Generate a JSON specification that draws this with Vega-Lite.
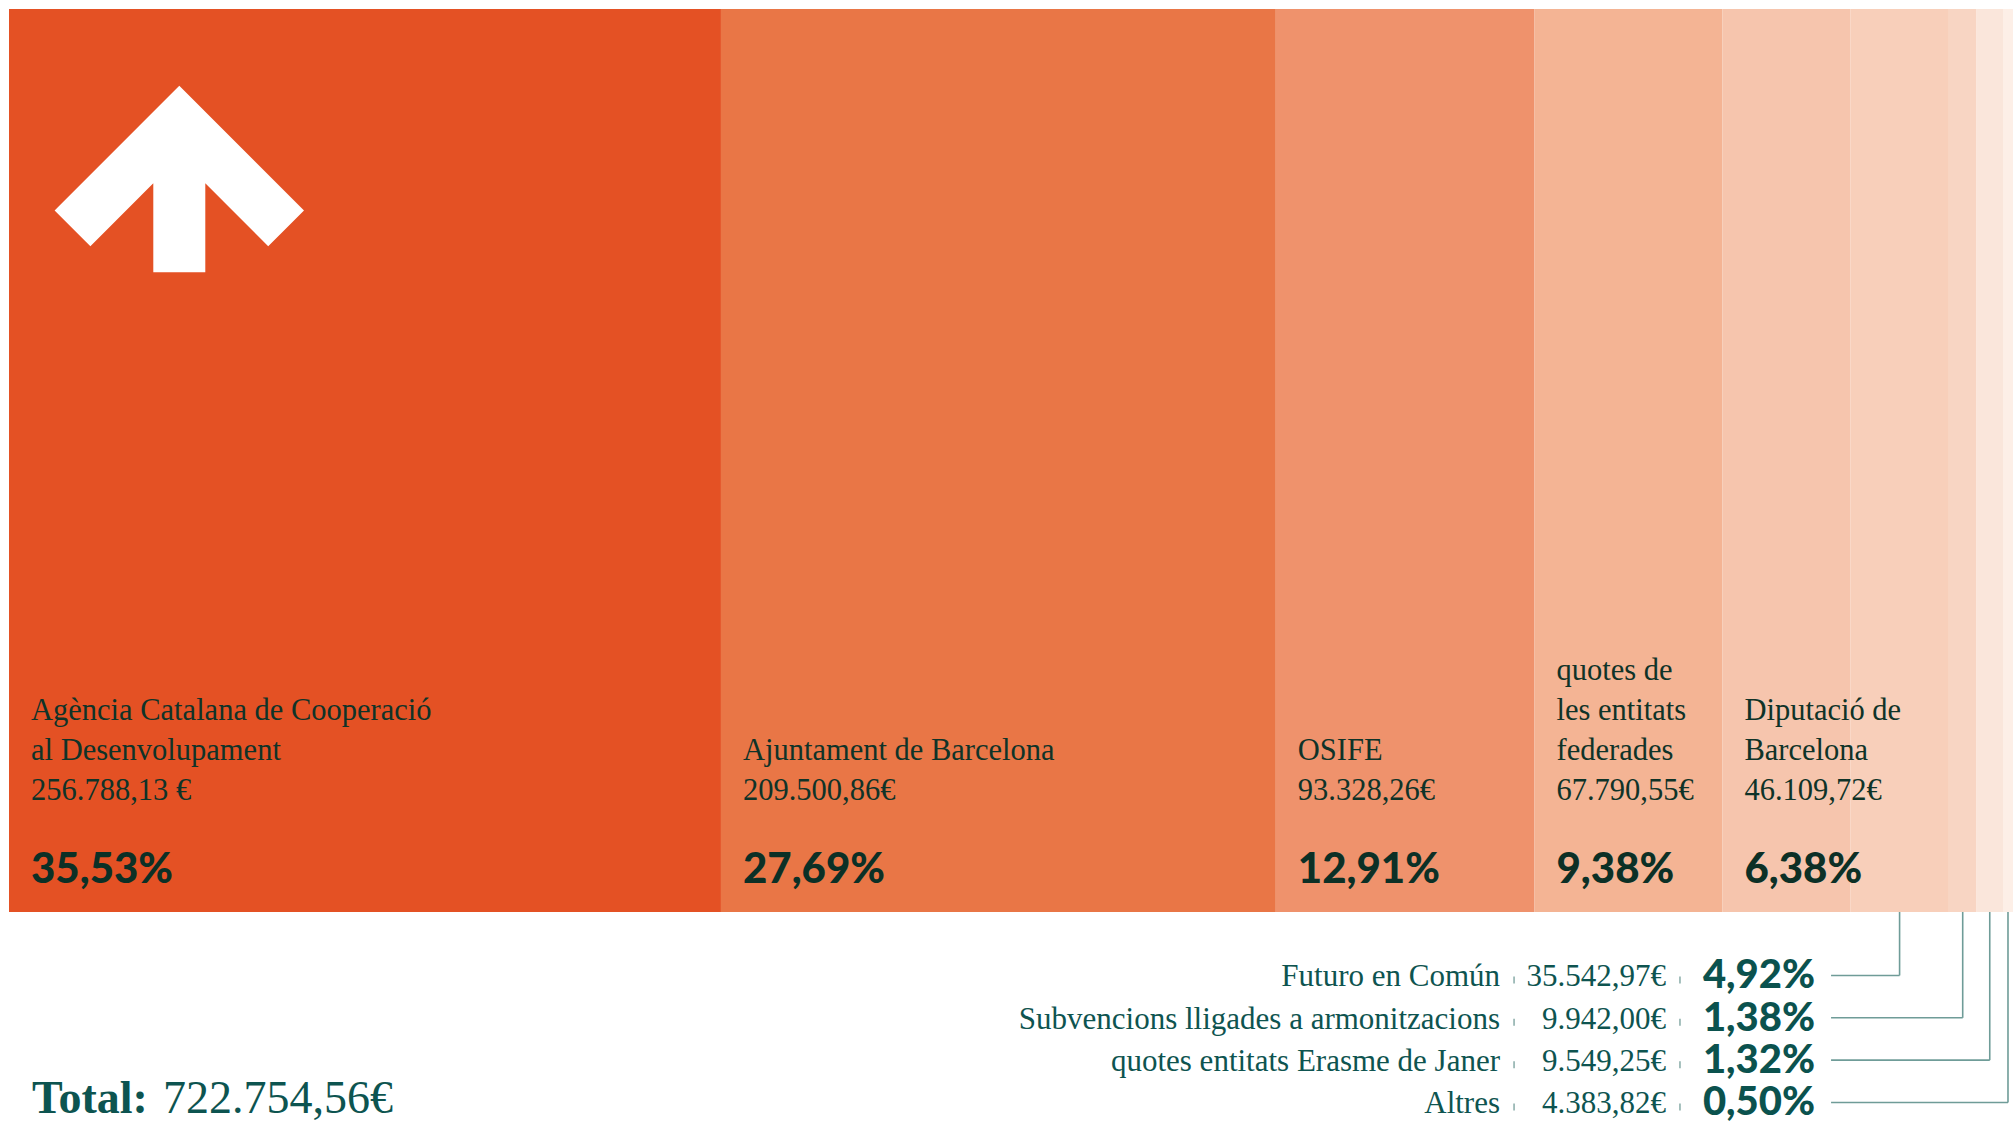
{
  "$schema": "https://vega.github.io/schema/vega-lite/v6.json",
  "width": 2004,
  "height": 1114,
  "padding": {"left": 9, "top": 9, "right": 0, "bottom": 0},
  "autosize": {"type": "none"},
  "background": "#ffffff",
  "config": {"view": {"stroke": null}, "text": {"font": "Liberation Serif"}},
  "layer": [
    {
      "data": {
        "values": [
          {"order": 1, "name": "Agència Catalana de Cooperació al Desenvolupament", "line_top": "", "line_mid": "Agència Catalana de Cooperació", "line_low": "al Desenvolupament", "amount": 256788.13, "amount_label": "256.788,13 €", "pct": 35.53, "pct_label": "35,53%"},
          {"order": 2, "name": "Ajuntament de Barcelona", "line_top": "", "line_mid": "", "line_low": "Ajuntament de Barcelona", "amount": 209500.86, "amount_label": "209.500,86€", "pct": 27.69, "pct_label": "27,69%"},
          {"order": 3, "name": "OSIFE", "line_top": "", "line_mid": "", "line_low": "OSIFE", "amount": 93328.26, "amount_label": "93.328,26€", "pct": 12.91, "pct_label": "12,91%"},
          {"order": 4, "name": "quotes de les entitats federades", "line_top": "quotes de", "line_mid": "les entitats", "line_low": "federades", "amount": 67790.55, "amount_label": "67.790,55€", "pct": 9.38, "pct_label": "9,38%"},
          {"order": 5, "name": "Diputació de Barcelona", "line_top": "", "line_mid": "Diputació de", "line_low": "Barcelona", "amount": 46109.72, "amount_label": "46.109,72€", "pct": 6.38, "pct_label": "6,38%"},
          {"order": 6, "name": "Futuro en Común", "line_top": "", "line_mid": "", "line_low": "Futuro en Común", "amount": 35542.97, "amount_label": "35.542,97€", "pct": 4.92, "pct_label": "4,92%"},
          {"order": 7, "name": "Subvencions lligades a armonitzacions", "line_top": "", "line_mid": "", "line_low": "Subvencions lligades a armonitzacions", "amount": 9942.00, "amount_label": "9.942,00€", "pct": 1.38, "pct_label": "1,38%"},
          {"order": 8, "name": "quotes entitats Erasme de Janer", "line_top": "", "line_mid": "", "line_low": "quotes entitats Erasme de Janer", "amount": 9549.25, "amount_label": "9.549,25€", "pct": 1.32, "pct_label": "1,32%"},
          {"order": 9, "name": "Altres", "line_top": "", "line_mid": "", "line_low": "Altres", "amount": 4383.82, "amount_label": "4.383,82€", "pct": 0.50, "pct_label": "0,50%"}
        ]
      },
      "transform": [
        {"stack": "pct", "groupby": [], "sort": [{"field": "order", "order": "ascending"}], "as": ["x0", "x1"]}
      ],
      "layer": [
        {
          "mark": {"type": "rect"},
          "encoding": {
            "x": {"field": "x0", "type": "quantitative", "scale": {"domain": [0, 100.01], "nice": false, "zero": false}, "axis": null},
            "x2": {"field": "x1"},
            "y": {"datum": -16.83, "type": "quantitative", "scale": {"domain": [-16.83, 9.485], "reverse": true, "nice": false, "zero": false}, "axis": null},
            "y2": {"datum": 4.5},
            "color": {
              "field": "name", "type": "nominal", "legend": null,
              "scale": {
                "domain": ["Agència Catalana de Cooperació al Desenvolupament", "Ajuntament de Barcelona", "OSIFE", "quotes de les entitats federades", "Diputació de Barcelona", "Futuro en Común", "Subvencions lligades a armonitzacions", "quotes entitats Erasme de Janer", "Altres"],
                "range": ["#E45124", "#E97646", "#EF926C", "#F4B494", "#F6C5AD", "#F8CFBA", "#F8D5C3", "#FAE6DB", "#FDEFE7"]
              }
            }
          }
        },
        {
          "transform": [{"filter": "datum.order == 1"}],
          "mark": {"type": "point", "shape": "M0,-0.748L1,0.252L0.713,0.539L0.2085,0.0345L0.2085,0.748L-0.2085,0.748L-0.2085,0.0345L-0.713,0.539L-1,0.252Z", "size": 62200, "filled": true, "fill": "#ffffff", "opacity": 1, "strokeWidth": 0, "xOffset": 170.3, "yOffset": 170},
          "encoding": {
            "x": {"field": "x0", "type": "quantitative"},
            "y": {"datum": -16.83, "type": "quantitative"}
          }
        },
        {
          "transform": [{"filter": "datum.order <= 5 && datum.line_top != ''"}],
          "mark": {"type": "text", "align": "left", "baseline": "alphabetic", "dx": 22, "dy": -232, "fontSize": 30.5, "color": "#0F3328"},
          "encoding": {
            "x": {"field": "x0", "type": "quantitative"},
            "y": {"datum": 4.5, "type": "quantitative"},
            "text": {"field": "line_top"}
          }
        },
        {
          "transform": [{"filter": "datum.order <= 5 && datum.line_mid != ''"}],
          "mark": {"type": "text", "align": "left", "baseline": "alphabetic", "dx": 22, "dy": -192, "fontSize": 30.5, "color": "#0F3328"},
          "encoding": {
            "x": {"field": "x0", "type": "quantitative"},
            "y": {"datum": 4.5, "type": "quantitative"},
            "text": {"field": "line_mid"}
          }
        },
        {
          "transform": [{"filter": "datum.order <= 5"}],
          "mark": {"type": "text", "align": "left", "baseline": "alphabetic", "dx": 22, "dy": -152, "fontSize": 30.5, "color": "#0F3328"},
          "encoding": {
            "x": {"field": "x0", "type": "quantitative"},
            "y": {"datum": 4.5, "type": "quantitative"},
            "text": {"field": "line_low"}
          }
        },
        {
          "transform": [{"filter": "datum.order <= 5"}],
          "mark": {"type": "text", "align": "left", "baseline": "alphabetic", "dx": 22, "dy": -112, "fontSize": 30.5, "color": "#0F3328"},
          "encoding": {
            "x": {"field": "x0", "type": "quantitative"},
            "y": {"datum": 4.5, "type": "quantitative"},
            "text": {"field": "amount_label"}
          }
        },
        {
          "transform": [{"filter": "datum.order <= 5"}],
          "mark": {"type": "text", "align": "left", "baseline": "alphabetic", "dx": 22, "dy": -29, "fontSize": 42, "font": "Lato", "fontWeight": 900, "color": "#0C3026"},
          "encoding": {
            "x": {"field": "x0", "type": "quantitative"},
            "y": {"datum": 4.5, "type": "quantitative"},
            "text": {"field": "pct_label"}
          }
        },
        {
          "transform": [{"filter": "datum.order >= 6"}],
          "mark": {"type": "text", "align": "right", "baseline": "middle", "dy": 2, "fontSize": 31, "color": "#0E5450"},
          "encoding": {
            "x": {"datum": 74.41, "type": "quantitative"},
            "y": {"field": "order", "type": "quantitative"},
            "text": {"field": "line_low"}
          }
        },
        {
          "transform": [{"filter": "datum.order >= 6"}],
          "mark": {"type": "text", "align": "right", "baseline": "middle", "dy": 2, "fontSize": 31, "color": "#0E5450"},
          "encoding": {
            "x": {"datum": 82.69, "type": "quantitative"},
            "y": {"field": "order", "type": "quantitative"},
            "text": {"field": "amount_label"}
          }
        },
        {
          "transform": [{"filter": "datum.order >= 6"}],
          "mark": {"type": "rule", "color": "#7FA5A1", "strokeWidth": 1.4, "yOffset": 1, "y2Offset": 8},
          "encoding": {
            "x": {"datum": 75.11, "type": "quantitative"},
            "y": {"field": "order", "type": "quantitative"},
            "y2": {"field": "order"}
          }
        },
        {
          "transform": [{"filter": "datum.order >= 6"}],
          "mark": {"type": "rule", "color": "#7FA5A1", "strokeWidth": 1.4, "yOffset": 1, "y2Offset": 8},
          "encoding": {
            "x": {"datum": 83.39, "type": "quantitative"},
            "y": {"field": "order", "type": "quantitative"},
            "y2": {"field": "order"}
          }
        },
        {
          "transform": [{"filter": "datum.order >= 6"}],
          "mark": {"type": "text", "align": "right", "baseline": "middle", "dy": 1, "fontSize": 40, "font": "Lato", "fontWeight": 900, "color": "#0B524E"},
          "encoding": {
            "x": {"datum": 90.13, "type": "quantitative"},
            "y": {"field": "order", "type": "quantitative"},
            "text": {"field": "pct_label"}
          }
        },
        {
          "transform": [
            {"filter": "datum.order >= 6"},
            {"fold": ["x0", "x1"], "as": ["edge", "xpos"]},
            {"aggregate": [{"op": "mean", "field": "xpos", "as": "mid"}], "groupby": ["name", "order"]}
          ],
          "layer": [
            {
              "mark": {"type": "rule", "color": "#6F9C98", "strokeWidth": 1.6},
              "encoding": {
                "x": {"field": "mid", "type": "quantitative"},
                "x2": {"datum": 90.93},
                "y": {"field": "order", "type": "quantitative"}
              }
            },
            {
              "mark": {"type": "rule", "color": "#6F9C98", "strokeWidth": 1.6},
              "encoding": {
                "x": {"field": "mid", "type": "quantitative"},
                "y": {"field": "order", "type": "quantitative"},
                "y2": {"datum": 4.5}
              }
            }
          ]
        }
      ]
    },
    {
      "data": {"values": [{"label": "Total:", "total": "722.754,56€"}]},
      "layer": [
        {
          "mark": {"type": "text", "align": "left", "baseline": "alphabetic", "dx": 23, "dy": -10, "fontSize": 46, "fontWeight": "bold", "color": "#0D5450"},
          "encoding": {
            "x": {"datum": 0, "type": "quantitative"},
            "y": {"datum": 9.485, "type": "quantitative"},
            "text": {"field": "label"}
          }
        },
        {
          "mark": {"type": "text", "align": "left", "baseline": "alphabetic", "dx": 154, "dy": -10, "fontSize": 46, "color": "#0D5450"},
          "encoding": {
            "x": {"datum": 0, "type": "quantitative"},
            "y": {"datum": 9.485, "type": "quantitative"},
            "text": {"field": "total"}
          }
        }
      ]
    }
  ]
}
